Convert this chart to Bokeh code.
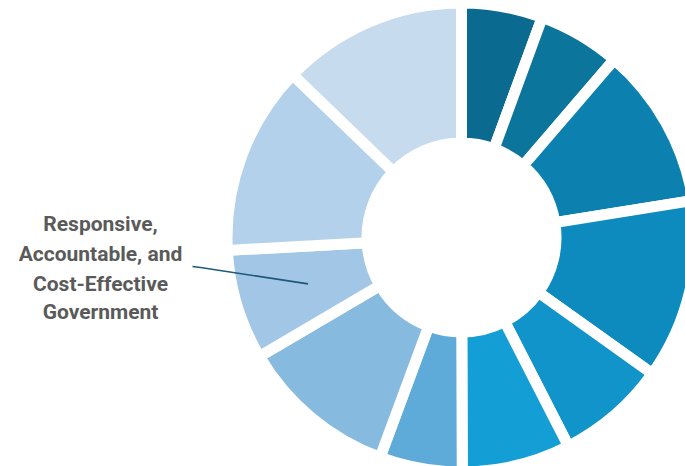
import numpy as np
from bokeh.plotting import figure
from bokeh.models import Range1d, ColumnDataSource
from bokeh.core.properties import value
from bokeh.embed import file_html
from bokeh.resources import INLINE

# Data (share of total, clockwise from 12 o'clock)
segments = ["S1", "S2", "S3", "S4", "S5", "S6", "S7", "S8",
            "Responsive, Accountable, and Cost-Effective Government", "S10", "S11"]
shares = [5.6, 5.7, 11.2, 12.4, 7.6, 7.5, 5.7, 10.9, 7.6, 13.1, 12.8]
colors = ["#0a6a8f", "#0b759b", "#0c81b0", "#0d8bbf", "#1194c9", "#139fd6",
          "#5eaad8", "#87badf", "#a2c7e6", "#b3d1eb", "#c7dbee"]
label_lines = ["Responsive,", "Accountable, and", "Cost-Effective", "Government"]
label_index = 8

W, H = 685, 466
p = figure(width=W, height=H, output_backend="svg", toolbar_location=None,
           x_range=Range1d(0, W), y_range=Range1d(0, H),
           min_border=0, outline_line_color=None, background_fill_color="white",
           border_fill_color="white")
p.axis.visible = False
p.grid.visible = False

cx, cy = 461, H - 237
r_out, r_in = 229, 100
gap = 11

vals = np.array(shares, dtype=float)
cum = np.concatenate([[0], np.cumsum(vals)]) / vals.sum() * 2 * np.pi
theta1 = cum[:-1]
theta2 = cum[1:]
start = np.pi / 2 - theta2
end = np.pi / 2 - theta1

src = ColumnDataSource(dict(start=start, end=end, color=colors, name=segments))
p.annular_wedge(x=cx, y=cy, inner_radius=r_in - gap / 2, outer_radius=r_out + gap / 2,
                start_angle="start", end_angle="end", source=src,
                fill_color="color", line_color="white", line_width=gap,
                inner_radius_units="screen", outer_radius_units="screen")

# leader line to labelled segment
mid = (theta1[label_index] + theta2[label_index]) / 2
rr = 0.70 * r_out
ex = cx + rr * np.sin(mid)
ey = cy + rr * np.cos(mid)
p.line(x=[192, 200, ex], y=[H - 266, H - 267, ey], line_color="#1f5878", line_width=1.6)

ys = [223, 253, 283, 311]
p.text(x=[100] * 4, y=[H - v for v in ys], text=label_lines,
       text_font=value("Roboto"), text_font_style="bold", text_font_size="21px",
       text_color="#5a5a5a", text_align="center", text_baseline="middle")

open("out.html", "w").write(file_html(p, INLINE))
